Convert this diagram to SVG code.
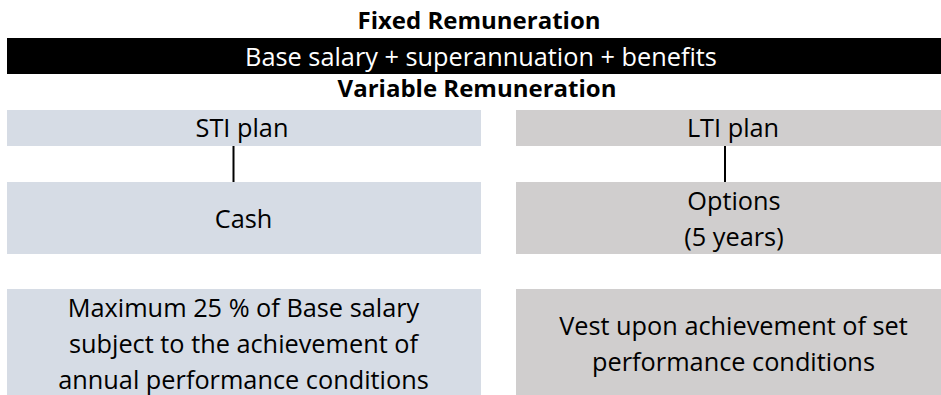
<svg xmlns="http://www.w3.org/2000/svg" width="941" height="395" viewBox="0 0 941 395">
  <style>
    text { font-family: "Open Sans", "Liberation Sans", sans-serif; font-size: 25.3px; text-anchor: middle; fill: #000; }
    .h { font-weight: bold; font-size: 24px; }
    .w { fill: #fff; }
    .blue { fill: #D6DCE5; }
    .grey { fill: #D0CECE; }
    .conn { stroke: #000; stroke-width: 2; fill: none; }
  </style>
  <rect width="941" height="395" fill="#fff"/>
  <g id="fixed-title"><text class="h" x="479" y="29">Fixed Remuneration</text></g>
  <g id="fixed-bar">
    <rect x="7" y="38" width="934" height="36" fill="#000"/>
    <text class="w" x="481" y="66">Base salary + superannuation + benefits</text>
  </g>
  <g id="variable-title"><text class="h" x="477" y="97">Variable Remuneration</text></g>
  <g id="sti">
    <rect class="blue" x="7" y="110" width="474" height="36"/>
    <text x="242" y="137">STI plan</text>
  </g>
  <g id="lti">
    <rect class="grey" x="516" y="110" width="425" height="36"/>
    <text x="733" y="137">LTI plan</text>
  </g>
  <g id="cash">
    <rect class="blue" x="7" y="182" width="474" height="72"/>
    <text x="243.5" y="228">Cash</text>
  </g>
  <g id="options">
    <rect class="grey" x="516" y="182" width="425" height="72"/>
    <text x="734" y="210">Options</text>
    <text x="734" y="246">(5 years)</text>
  </g>
  <g id="sti-detail">
    <rect class="blue" x="7" y="289" width="474" height="106"/>
    <text x="243.5" y="317">Maximum 25 % of Base salary</text>
    <text x="243.5" y="353">subject to the achievement of</text>
    <text x="243.5" y="389">annual performance conditions</text>
  </g>
  <g id="lti-detail">
    <rect class="grey" x="516" y="289" width="425" height="106"/>
    <text x="733.5" y="335">Vest upon achievement of set</text>
    <text x="733.5" y="371">performance conditions</text>
  </g>
  <g id="connectors">
    <line class="conn" x1="233.5" y1="146" x2="233.5" y2="182"/>
    <line class="conn" x1="725" y1="146" x2="725" y2="182"/>
  </g>
</svg>
